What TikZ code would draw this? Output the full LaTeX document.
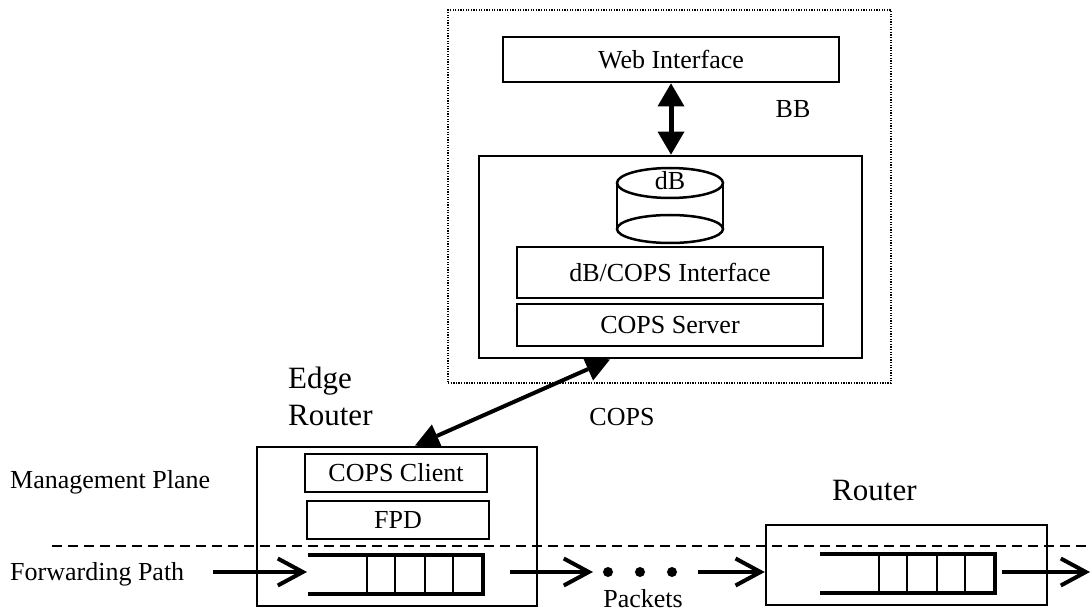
\documentclass[tikz,border=0pt]{standalone}
\usepackage{fontspec}
\setmainfont{Liberation Serif}
\usepackage{tikz}
\usetikzlibrary{arrows.meta, positioning}

\tikzset{
  box/.style={draw, line width=2.8pt, inner sep=0pt, font=\fontsize{26}{30}\selectfont},
  lbl/.style={inner sep=0pt, font=\fontsize{26}{30}\selectfont},
  biglbl/.style={inner sep=0pt, font=\fontsize{31}{36}\selectfont},
  dotbox/.style={draw, line width=1.3pt, dash pattern=on 1.3pt off 1.3pt, inner sep=0pt},
  bbarrow/.style={line width=5pt, {Triangle[width=27pt,length=23pt,line width=0pt]}-{Triangle[width=27pt,length=23pt,line width=0pt]}},
  copsarrow/.style={line width=4pt, {Triangle[width=25pt,length=24pt,line width=0pt]}-{Triangle[width=25pt,length=24pt,line width=0pt]}},
  pktarrow/.style={line width=4pt, -{Straight Barb[width=27pt,length=25pt]}},
  qline/.style={line width=4.5pt, line join=miter},
  qcell/.style={line width=2pt},
  planeline/.style={line width=1.8pt, dash pattern=on 10pt off 6pt}
}

\begin{document}
\begin{tikzpicture}[x=1pt,y=1pt,yscale=-1,xscale=1]
    \useasboundingbox (0,0) rectangle (1092,612);

    \node[dotbox, minimum width=443pt, minimum height=373pt] (bb) at (669.5,196.5) {};
    \node[box, minimum width=336pt, minimum height=45pt] (web) at (671,59.5) {Web Interface};
    \node[lbl, anchor=base] (bblbl) at (793,118) {BB};
    \node[box, minimum width=383pt, minimum height=202pt] (srv) at (670.5,257) {};
    \draw[line width=2.5pt] (617,183) -- (617,229) (723,183) -- (723,229);
    \draw[line width=2.5pt] (670,183) ellipse [x radius=53, y radius=15];
    \draw[line width=2.5pt] (670,229) ellipse [x radius=53, y radius=14];
    \node[lbl, anchor=base] (db) at (670,190) {dB};
    \node[box, minimum width=306pt, minimum height=51pt] (dbif) at (670,272.5) {dB/COPS Interface};
    \node[box, minimum width=306pt, minimum height=42pt] (server) at (670,325) {COPS Server};
    \draw[bbarrow] (web.south) -- (web.south |- srv.north);

    \node[biglbl, anchor=base west] (edgelbl) at (288,388) {Edge};
    \node[biglbl, anchor=base west] (erlbl) at (288,425) {Router};
    \node[lbl, anchor=base] (copslbl) at (622,425) {COPS};
    \node[box, minimum width=280pt, minimum height=159pt] (er) at (397,526.5) {};
    \node[box, minimum width=182pt, minimum height=38pt] (client) at (396,473) {COPS Client};
    \node[box, minimum width=182pt, minimum height=38pt] (fpd) at (398,520) {FPD};
    \draw[copsarrow] ([xshift=18]er.north) -- ([xshift=-60.5]srv.south);

    \node[biglbl, anchor=base west] (rtlbl) at (832,500) {Router};
    \node[box, line width=2.5pt, minimum width=281pt, minimum height=80pt] (rt) at (906.5,565) {};

    \node[lbl, anchor=base west] (mgmt) at (10,488) {Management Plane};
    \node[lbl, anchor=base west] (fwd) at (10,580) {Forwarding Path};
    \node[lbl, anchor=base] (pkts) at (643,607) {Packets};

    \coordinate (planeL) at (52,546);
    \coordinate (planeR) at (1092,546);
    \draw[planeline] (planeL) -- (planeR);

    \foreach \qx/\qy in {308/555, 820/554} {
        \draw[qline] (\qx,\qy) -- ++(175,0) -- ++(0,39) -- ++(-175,0);
        \foreach \dx in {59,87,117,145}
            \draw[qcell] (\qx+\dx,\qy) -- ++(0,39);
    }

    \coordinate (fpin) at (213,572);
    \coordinate (erqin) at (307,572);
    \coordinate (erqout) at (510,572);
    \coordinate (dotsL) at (593,572);
    \coordinate (dotsR) at (698,572);
    \coordinate (rtqout) at (1002,572);
    \coordinate (fpout) at (1090,572);
    \draw[pktarrow] (fpin) -- (erqin);
    \draw[pktarrow] (erqout) -- (dotsL);
    \foreach \x in {608,640,672}
        \fill (\x,572) circle (5pt);
    \draw[pktarrow] (dotsR) -- (dotsR -| rt.west);
    \draw[pktarrow] (rtqout) -- (fpout);
\end{tikzpicture}
\end{document}
